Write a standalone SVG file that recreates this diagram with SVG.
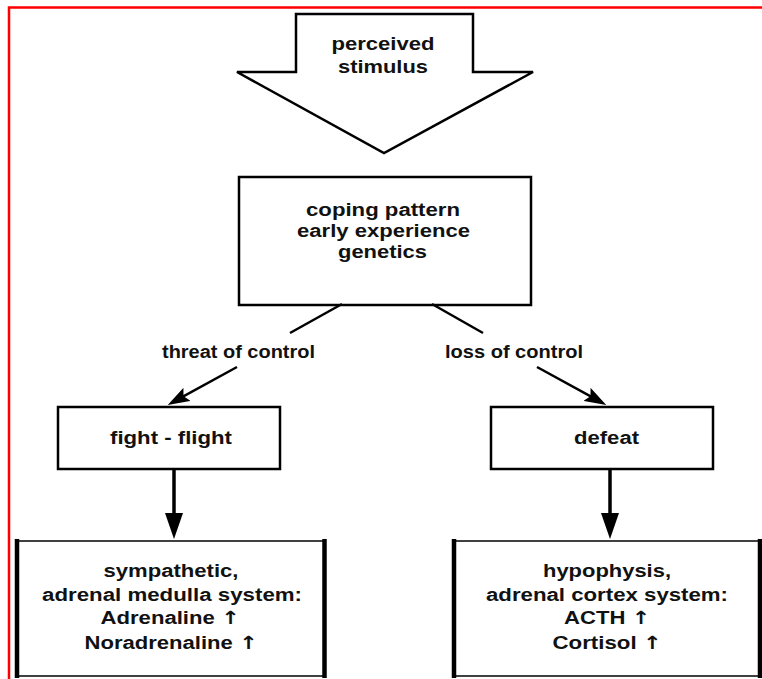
<svg xmlns="http://www.w3.org/2000/svg" width="762" height="679" viewBox="0 0 762 679">
  <style>
    .t { font-family: "Liberation Sans", Arial, sans-serif; font-weight: bold; font-size: 18px; fill: #111; text-anchor: middle; }
    .up { font-family: "DejaVu Sans", sans-serif; font-weight: bold; fill: #111; }
    .shape { fill: #fff; stroke: #000; stroke-width: 2.5; }
    .thin { fill: none; stroke: #000; stroke-width: 1.5; }
    .thick { fill: none; stroke: #000; stroke-width: 4.5; }
    .conn { fill: none; stroke: #000; stroke-width: 2.5; }
    .vconn { fill: none; stroke: #000; stroke-width: 3.5; }
  </style>
  <defs>
    <marker id="ah" viewBox="0 0 22 15" refX="12" refY="7.5" markerWidth="22" markerHeight="15" markerUnits="userSpaceOnUse" orient="auto">
      <path d="M0,0 L22,7.5 L0,15 L4,7.5 z" fill="#000"/>
    </marker>
    <marker id="ahv" viewBox="0 0 26 18" refX="14" refY="9" markerWidth="26" markerHeight="18" markerUnits="userSpaceOnUse" orient="auto">
      <path d="M0,0 L26,9 L0,18 z" fill="#000"/>
    </marker>
  </defs>
  <rect width="762" height="679" fill="#fff"/>
  <polyline points="9,679 9,7.5 762,7.5" fill="none" stroke="#ff0000" stroke-width="2.5"/>

  <g id="stimulus">
    <polygon class="shape" points="296,14 473,14 473,72 533,72 384,153 237,72 296,72"/>
    <text class="t" x="383" y="50" textLength="103" lengthAdjust="spacingAndGlyphs">perceived</text>
    <text class="t" x="383" y="73" textLength="90" lengthAdjust="spacingAndGlyphs">stimulus</text>
  </g>

  <g id="coping">
    <rect class="shape" x="239" y="177" width="292" height="128"/>
    <text class="t" x="383" y="216" textLength="154" lengthAdjust="spacingAndGlyphs">coping pattern</text>
    <text class="t" x="383.5" y="237" textLength="173" lengthAdjust="spacingAndGlyphs">early experience</text>
    <text class="t" x="382.5" y="258" textLength="89" lengthAdjust="spacingAndGlyphs">genetics</text>
  </g>

  <g id="fight">
    <rect class="shape" x="58" y="407" width="222" height="62"/>
    <text class="t" x="171" y="444" textLength="122" lengthAdjust="spacingAndGlyphs">fight - flight</text>
  </g>

  <g id="defeat">
    <rect class="shape" x="491" y="407" width="222" height="62"/>
    <text class="t" x="606.5" y="444" textLength="65" lengthAdjust="spacingAndGlyphs">defeat</text>
  </g>

  <g id="sympathetic">
    <rect x="17" y="541" width="308" height="135" fill="#fff"/>
    <line class="thin" x1="17" y1="541" x2="325" y2="541"/>
    <line class="thin" x1="17" y1="676" x2="325" y2="676"/>
    <line class="thick" x1="17" y1="539" x2="17" y2="678"/>
    <line class="thick" x1="324.5" y1="539" x2="324.5" y2="678"/>
    <text class="t" x="171" y="577" textLength="135" lengthAdjust="spacingAndGlyphs">sympathetic,</text>
    <text class="t" x="172" y="601" textLength="260" lengthAdjust="spacingAndGlyphs">adrenal medulla system:</text>
    <text class="t" x="170" y="624" textLength="139" lengthAdjust="spacingAndGlyphs">Adrenaline <tspan class="up">↑</tspan></text>
    <text class="t" x="171" y="649" textLength="173" lengthAdjust="spacingAndGlyphs">Noradrenaline <tspan class="up">↑</tspan></text>
  </g>

  <g id="hypophysis">
    <rect x="454" y="541" width="306" height="135" fill="#fff"/>
    <line class="thin" x1="454" y1="541" x2="760" y2="541"/>
    <line class="thin" x1="454" y1="676" x2="760" y2="676"/>
    <line class="thick" x1="454" y1="539" x2="454" y2="678"/>
    <line class="thick" x1="760" y1="539" x2="760" y2="678"/>
    <text class="t" x="607" y="577" textLength="128" lengthAdjust="spacingAndGlyphs">hypophysis,</text>
    <text class="t" x="607" y="601" textLength="242" lengthAdjust="spacingAndGlyphs">adrenal cortex system:</text>
    <text class="t" x="607" y="624" textLength="86" lengthAdjust="spacingAndGlyphs">ACTH <tspan class="up">↑</tspan></text>
    <text class="t" x="607" y="649" textLength="109" lengthAdjust="spacingAndGlyphs">Cortisol <tspan class="up">↑</tspan></text>
  </g>

  <g id="connectors">
    <line class="conn" x1="342" y1="304" x2="290" y2="333"/>
    <line class="conn" x1="432" y1="304" x2="483" y2="333"/>
    <text class="t" x="238.5" y="358" textLength="153" lengthAdjust="spacingAndGlyphs">threat of control</text>
    <text class="t" x="514" y="358" textLength="138" lengthAdjust="spacingAndGlyphs">loss of control</text>
    <line class="conn" x1="237" y1="367" x2="176.5" y2="400.2" marker-end="url(#ah)"/>
    <line class="conn" x1="537" y1="367" x2="597.5" y2="400.2" marker-end="url(#ah)"/>
    <line class="vconn" x1="174" y1="469" x2="174" y2="527" marker-end="url(#ahv)"/>
    <line class="vconn" x1="610" y1="469" x2="610" y2="527" marker-end="url(#ahv)"/>
  </g>
</svg>
